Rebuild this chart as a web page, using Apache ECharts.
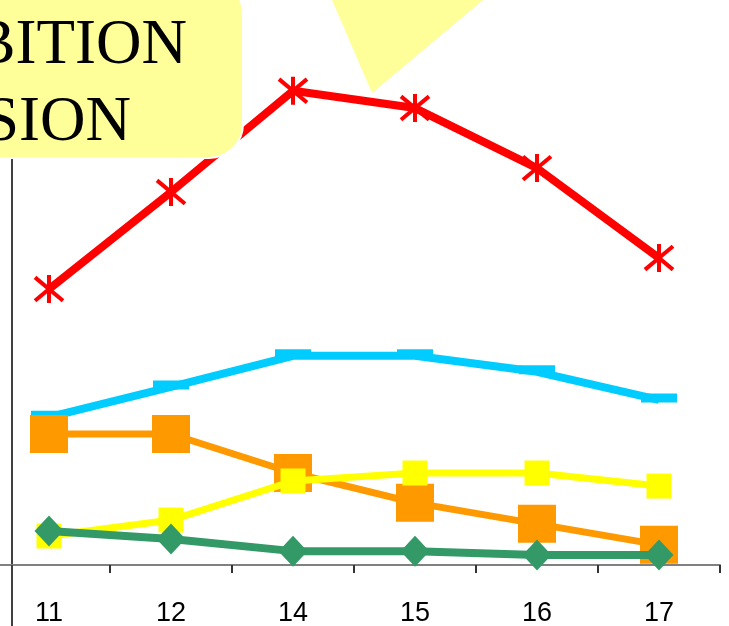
<!DOCTYPE html>
<html>
<head>
<meta charset="utf-8">
<script src="https://cdn.jsdelivr.net/npm/echarts@6/dist/echarts.min.js"></script>
<style>
html,body{margin:0;padding:0;background:#fff;}
#c{width:729px;height:626px;}
</style>
</head>
<body>
<div id="c"></div>
<script>
const categories = ['11', '12', '14', '15', '16', '17'];
const redValues    = [65.7, 88.8, 112.9, 108.8, 94.5, 73.1];
const cyanValues   = [35.2, 42.4, 49.8, 49.8, 46.0, 39.3];
const orangeValues = [31.2, 31.2, 21.9, 14.8, 9.8, 4.8];
const yellowValues = [6.9, 10.7, 20.0, 21.9, 21.9, 18.8];
const greenValues  = [8.1, 6.2, 3.3, 3.3, 2.4, 2.4];
const boxLines = ['BITION', 'SION'];

const chart = echarts.init(document.getElementById('c'), null, {renderer: 'canvas'});
const starPath = 'path://M0,0L2,2M2,0L0,2M1,-0.2L1,2.2';

chart.setOption({
  animation: false,
  backgroundColor: '#ffffff',
  grid: {left: -12, right: 9, top: -23, bottom: 61, containLabel: false, outerBoundsMode: 'none'},
  xAxis: {
    type: 'category',
    data: categories,
    boundaryGap: true,
    axisLine: {show: true, lineStyle: {color: '#808080', width: 2}},
    axisTick: {show: true, length: 8, lineStyle: {color: '#333333', width: 2}},
    axisLabel: {show: true, interval: 0, color: '#000', fontFamily: 'Liberation Sans', fontSize: 27, lineHeight: 27, margin: 35},
    splitLine: {show: false}
  },
  yAxis: {
    type: 'value',
    min: 0,
    max: 140,
    offset: -24,
    axisLine: {show: true, lineStyle: {color: '#404040', width: 2}},
    axisTick: {show: false},
    axisLabel: {show: false},
    splitLine: {show: false}
  },
  series: [
    {
      type: 'line', data: redValues, symbol: starPath, symbolSize: 28,
      lineStyle: {color: '#ff0000', width: 8},
      itemStyle: {color: 'rgba(0,0,0,0)', borderColor: '#ff0000', borderWidth: 4},
      z: 2
    },
    {
      type: 'line', data: cyanValues, symbol: 'rect', symbolSize: [36, 9], symbolOffset: [0, -2],
      lineStyle: {color: '#00ccff', width: 8},
      itemStyle: {color: '#00ccff'},
      z: 3
    },
    {
      type: 'line', data: orangeValues, symbol: 'rect', symbolSize: 38,
      lineStyle: {color: '#ff9900', width: 7},
      itemStyle: {color: '#ff9900'},
      z: 4
    },
    {
      type: 'line', data: yellowValues, symbol: 'rect', symbolSize: 25,
      lineStyle: {color: '#ffff00', width: 7},
      itemStyle: {color: '#ffff00'},
      z: 5
    },
    {
      type: 'line', data: greenValues, symbol: 'diamond', symbolSize: [29, 31],
      lineStyle: {color: '#339966', width: 8},
      itemStyle: {color: '#339966'},
      z: 6
    }
  ],
  graphic: [
    {
      type: 'line', z: 1,
      shape: {x1: 12, y1: 565, x2: 12, y2: 640},
      style: {stroke: '#404040', lineWidth: 2}
    },
    {
      type: 'polygon', z: 100,
      shape: {points: [[332, 0], [483, 0], [372, 93]]},
      style: {fill: '#ffff99'}
    },
    {
      type: 'rect', z: 100,
      shape: {x: -40, y: -20, width: 283, height: 178, r: 34},
      style: {fill: '#ffff99', stroke: '#ffffff', lineWidth: 2}
    },
    {
      type: 'text', z: 101, x: 187, y: 15,
      style: {text: boxLines[0], fill: '#000', font: '63px "Liberation Serif"', align: 'right', verticalAlign: 'top'}
    },
    {
      type: 'text', z: 101, x: 131, y: 92,
      style: {text: boxLines[1], fill: '#000', font: '63px "Liberation Serif"', align: 'right', verticalAlign: 'top'}
    }
  ]
});
</script>
</body>
</html>
